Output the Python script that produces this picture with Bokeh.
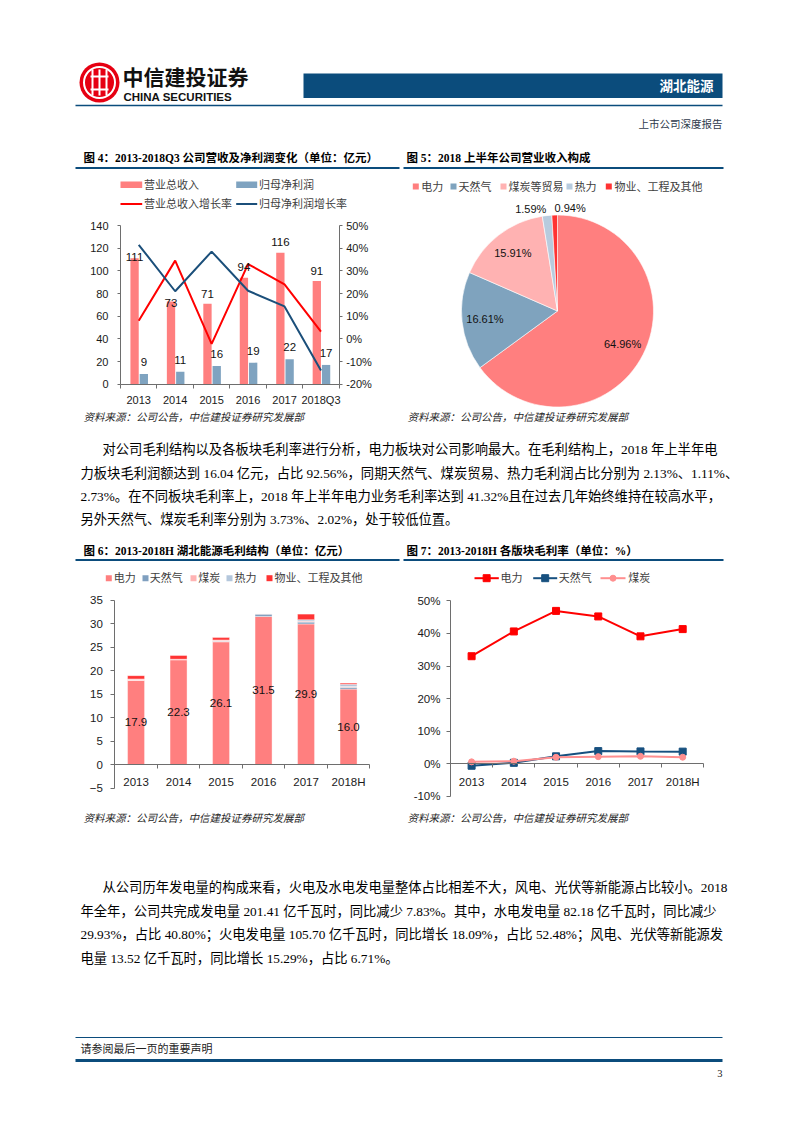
import numpy as np
from bokeh.plotting import figure
from bokeh.models import Range1d, LinearAxis, FixedTicker, NumeralTickFormatter, ColumnDataSource
from bokeh.core.properties import value
from bokeh.embed import file_html
from bokeh.resources import INLINE

# ---------------- data ----------------
years4 = ["2013", "2014", "2015", "2016", "2017", "2018Q3"]
revenue = [111, 73, 71, 94, 116, 91]
net_profit = [9, 11, 16, 19, 22, 17]
revenue_growth = [0.08, 0.345, -0.022, 0.33, 0.24, 0.032]
profit_growth = [0.415, 0.21, 0.385, 0.212, 0.143, -0.14]

pie_labels = ["电力", "天然气", "煤炭等贸易", "热力", "物业、工程及其他"]
pie_values = [64.96, 16.61, 15.91, 1.59, 0.94]

years6 = ["2013", "2014", "2015", "2016", "2017", "2018H"]
gp_labels = ["电力", "天然气", "煤炭", "热力", "物业、工程及其他"]
gp_power = [17.9, 22.3, 26.1, 31.5, 29.9, 16.04]
gp_gas = [0.0, 0.0, 0.1, 0.5, 0.4, 0.37]
gp_coal = [0.3, 0.1, 0.3, 0.1, 0.2, 0.19]
gp_heat = [0.0, 0.0, 0.0, 0.0, 0.3, 0.47]
gp_other = [0.7, 0.8, 0.5, 0.0, 1.2, 0.25]

margin_labels = ["电力", "天然气", "煤炭"]
margin_power = [0.330, 0.406, 0.469, 0.452, 0.391, 0.4132]
margin_gas = [-0.006, 0.003, 0.023, 0.039, 0.038, 0.0373]
margin_coal = [0.006, 0.008, 0.020, 0.022, 0.023, 0.0202]

para1 = [
    "对公司毛利结构以及各板块毛利率进行分析，电力板块对公司影响最大。在毛利结构上，2018 年上半年电",
    "力板块毛利润额达到 16.04 亿元，占比 92.56%，同期天然气、煤炭贸易、热力毛利润占比分别为 2.13%、1.11%、",
    "2.73%。在不同板块毛利率上，2018 年上半年电力业务毛利率达到 41.32%且在过去几年始终维持在较高水平，",
    "另外天然气、煤炭毛利率分别为 3.73%、2.02%，处于较低位置。",
]
para2 = [
    "从公司历年发电量的构成来看，火电及水电发电量整体占比相差不大，风电、光伏等新能源占比较小。2018",
    "年全年，公司共完成发电量 201.41 亿千瓦时，同比减少 7.83%。其中，水电发电量 82.18 亿千瓦时，同比减少",
    "29.93%，占比 40.80%；火电发电量 105.70 亿千瓦时，同比增长 18.09%，占比 52.48%；风电、光伏等新能源发",
    "电量 13.52 亿千瓦时，同比增长 15.29%，占比 6.71%。",
]
SRC = "资料来源：公司公告，中信建投证券研究发展部"

# ---------------- styles ----------------
NAVY = "#0B4C7C"
C_REV = "#FF7F7F"
C_NP = "#7FA3C0"
C_RG = "#FF0000"
C_NPG = "#1B4F7A"
PIE_COLORS = ["#FF7F7F", "#7FA3BE", "#FFB2B2", "#B7CBDE", "#FF3333"]
GP_COLORS = ["#FF7F7F", "#7F9FBF", "#FFB3B3", "#B4C7DC", "#FF3333"]
M_COLORS = ["#FF0000", "#17507F", "#FF8F8F"]
AXC = "#6E6E6E"
SANS = "Liberation Sans, Noto Sans CJK SC"
SERIF = "Liberation Serif, Noto Sans CJK SC"

W, H = 777, 1106
OFF = 0.0


def X(ix):
    return ix - OFF


def Y(iy):
    return H - (iy - OFF)


p = figure(width=W, height=H, x_range=Range1d(0, W), y_range=Range1d(0, H),
           x_axis_location=None, y_axis_location=None, output_backend="svg",
           toolbar_location=None, min_border=0)
p.grid.visible = False
p.outline_line_color = None
p.background_fill_color = "white"
p.border_fill_color = "white"


def prange(v0, i0, v1, i1, total, conv):
    a, b = conv(i0), conv(i1)
    k = (b - a) / (v1 - v0)
    s = v0 - a / k
    return Range1d(start=s, end=s + total / k)


p.extra_x_ranges = {
    "c4x": prange(0.5, 120, 6.5, 338.7, W, X),
    "c6x": prange(0.5, 114.3, 6.5, 369.3, W, X),
    "c7x": prange(0.5, 450, 6.5, 703.3, W, X),
}
p.extra_y_ranges = {
    "c4y": prange(0, 383.7, 140, 225, H, Y),
    "c4g": prange(-0.2, 383.7, 0.5, 225, H, Y),
    "c6y": prange(0, 764, 35, 599.5, H, Y),
    "c7y": prange(0, 763.3, 0.5, 600.3, H, Y),
}


def T(ix, iy, s, size, font=SANS, color="#000000", align="left", baseline="middle", style="normal"):
    p.text(x=[X(ix)], y=[Y(iy)], text=[s], text_font=value(font), text_font_size=f"{size}px",
           text_color=color, text_align=align, text_baseline=baseline, text_font_style=style)


def HL(x0, x1, iy, color, width):
    p.segment(x0=[X(x0)], y0=[Y(iy)], x1=[X(x1)], y1=[Y(iy)], line_color=color, line_width=width)


def BOX(x0, x1, y0, y1, color):
    p.quad(left=[X(x0)], right=[X(x1)], top=[Y(y0)], bottom=[Y(y1)], fill_color=color, line_color=None)


def add_axis(side, xr, yr, loc, bounds, ticks, minor=(), fmt=None, overrides=None, size=11,
             tick_out=4, standoff=6, major_tick=True, minor_out=0):
    ax = LinearAxis(x_range_name=xr, y_range_name=yr, fixed_location=loc, bounds=bounds,
                    ticker=FixedTicker(ticks=list(ticks), minor_ticks=list(minor)))
    if fmt is not None:
        ax.formatter = fmt
    if overrides is not None:
        ax.major_label_overrides = overrides
    ax.axis_line_color = AXC
    ax.major_tick_line_color = AXC if major_tick else None
    ax.major_tick_out = tick_out if major_tick else 0
    ax.major_tick_in = 0
    ax.minor_tick_line_color = AXC if len(minor) else None
    ax.minor_tick_out = minor_out
    ax.minor_tick_in = 0
    ax.major_label_standoff = standoff
    ax.major_label_text_font = SANS
    ax.major_label_text_font_size = f"{size}px"
    ax.major_label_text_color = "#1A1A1A"
    p.add_layout(ax, side)
    return ax


# ---------------- page header ----------------
p.circle(x=[X(99)], y=[Y(82)], radius=20, fill_color="#E60012", line_color=None)
p.circle(x=[X(99)], y=[Y(82)], radius=15.5, fill_color=None, line_color="white", line_width=2)
for dx in (-7, 0, 7):
    p.segment(x0=[X(99 + dx)], y0=[Y(69)], x1=[X(99 + dx)], y1=[Y(95)], line_color="white", line_width=2)
HL(90, 108, 76, "white", 2)
HL(90, 108, 89, "white", 2)
T(122, 77, "中信建投证券", 21, SANS, "#111111", style="bold")
T(123, 96, "CHINA SECURITIES", 11.5, "Liberation Sans", "#111111", style="bold")
BOX(303, 722, 73, 97.5, NAVY)
T(713, 86, "湖北能源", 13.5, SANS, "white", align="right", style="bold")
HL(75, 722, 105, NAVY, 1.5)
T(722, 124, "上市公司深度报告", 10.5, SERIF, "#2E3A4C", align="right")

# ---------------- chart titles / sources ----------------
T(83, 157, "图 4：2013-2018Q3 公司营收及净利润变化（单位：亿元）", 11.5, SERIF, style="bold")
HL(75, 399, 167.5, NAVY, 2)
T(406, 157, "图 5：2018 上半年公司营业收入构成", 11.5, SERIF, style="bold")
HL(403, 723, 167.5, NAVY, 2)
T(83, 550, "图 6：2013-2018H 湖北能源毛利结构（单位：亿元）", 11.5, SERIF, style="bold")
HL(75, 399, 559.5, NAVY, 2)
T(406, 550, "图 7：2013-2018H 各版块毛利率（单位：%）", 11.5, SERIF, style="bold")
HL(403, 723, 559.5, NAVY, 2)
for sx, sy in ((83, 417), (407, 417), (83, 818), (407, 818)):
    T(sx, sy, SRC, 10.5, SERIF, "#262626", style="italic")

# ---------------- chart 4 ----------------
xs4 = np.arange(1, len(years4) + 1)
p.vbar(x=xs4 - 0.114, top=revenue, width=0.228, x_range_name="c4x", y_range_name="c4y",
       fill_color=C_REV, line_color=None)
p.vbar(x=xs4 + 0.14, top=net_profit, width=0.228, x_range_name="c4x", y_range_name="c4y",
       fill_color=C_NP, line_color=None)
p.line(xs4, revenue_growth, x_range_name="c4x", y_range_name="c4g", line_color=C_RG, line_width=2)
p.line(xs4, profit_growth, x_range_name="c4x", y_range_name="c4g", line_color=C_NPG, line_width=2)
rev_label_dy = [-1, 2, -10, -11, -11, -10]
p.text(x=xs4 - 0.114, y=revenue, text=[str(v) for v in revenue], y_offset=rev_label_dy,
       x_range_name="c4x", y_range_name="c4y", text_font=value(SANS), text_font_size="11.5px",
       text_align="center", text_baseline="middle", text_color="#111111")
p.text(x=xs4 + 0.14, y=net_profit, text=[str(v) for v in net_profit], y_offset=-12,
       x_range_name="c4x", y_range_name="c4y", text_font=value(SANS), text_font_size="11.5px",
       text_align="center", text_baseline="middle", text_color="#111111")
add_axis("left", "c4x", "c4y", 0.5, (0, 140), range(0, 141, 20), tick_out=3, standoff=9)
add_axis("right", "c4x", "c4g", 6.5, (-0.2, 0.5), [round(-0.2 + 0.1 * i, 2) for i in range(8)],
         fmt=NumeralTickFormatter(format="0%"), tick_out=3, standoff=4)
add_axis("below", "c4x", "c4y", 0, (0.5, 6.5), xs4, minor=[i + 0.5 for i in range(len(years4) + 1)],
         overrides={int(i): y for i, y in zip(xs4, years4)}, major_tick=False, minor_out=4, standoff=6)

# legend chart 4
BOX(120, 141.7, 181, 187.5, C_REV)
T(143.5, 184.5, "营业总收入", 11, SANS, "#404040")
BOX(235.7, 256.7, 181, 187.5, C_NP)
T(258.5, 184.5, "归母净利润", 11, SANS, "#404040")
HL(120, 141.7, 203.5, C_RG, 2)
T(143.5, 203.5, "营业总收入增长率", 11, SANS, "#404040")
HL(235.7, 256.7, 203.5, C_NPG, 2)
T(258.5, 203.5, "归母净利润增长率", 11, SANS, "#404040")

# ---------------- chart 5 (pie) ----------------
cx, cy, R = X(557), Y(310.5), 96
frac = np.array(pie_values) / sum(pie_values)
cum = np.concatenate([[0.0], np.cumsum(frac)])
a0 = np.pi / 2 - 2 * np.pi * cum[:-1]
a1 = np.pi / 2 - 2 * np.pi * cum[1:]
p.wedge(x=cx, y=cy, radius=R, start_angle=a0, end_angle=a1, direction="clock",
        fill_color=PIE_COLORS, line_color="white", line_width=0.6)
mid = np.pi / 2 - np.pi * (cum[:-1] + cum[1:])
rl = np.where(frac > 0.05, 0.76 * R, 1.07 * R)
p.text(x=cx + rl * np.cos(mid), y=cy + rl * np.sin(mid), text=[f"{v:.2f}%" for v in pie_values],
       text_align=["center", "center", "center", "right", "left"], text_baseline="middle",
       text_font=value(SANS), text_font_size="11px", text_color="#111111")
leg5 = [(415.3, 420.7), (453, 458), (503, 508), (569, 574), (608.3, 614)]
for (mx, tx), lab, col in zip(leg5, pie_labels, PIE_COLORS):
    p.scatter(x=[X(mx)], y=[Y(186)], marker="square", size=6, fill_color=col, line_color=None)
    T(tx, 186, lab, 11, SANS, "#404040")

# ---------------- chart 6 (stacked) ----------------
xs6 = np.arange(1, len(years6) + 1)
src6 = ColumnDataSource(dict(x=xs6, power=gp_power, gas=gp_gas, coal=gp_coal, heat=gp_heat, other=gp_other))
p.vbar_stack(["power", "gas", "coal", "heat", "other"], x="x", width=0.4, color=GP_COLORS, source=src6,
             x_range_name="c6x", y_range_name="c6y", line_color="white", line_width=0.4)
p.text(x=xs6, y=[v / 2 for v in gp_power], text=[f"{v:.1f}" for v in gp_power],
       x_range_name="c6x", y_range_name="c6y", text_font=value(SANS), text_font_size="11.5px",
       text_align="center", text_baseline="middle", text_color="#111111")
add_axis("left", "c6x", "c6y", 0.5, (-5, 35), range(-5, 36, 5), size=11.5, tick_out=4, standoff=8)
add_axis("below", "c6x", "c6y", 0, (0.5, 6.5), xs6, minor=[i + 0.5 for i in range(len(years6) + 1)],
         overrides={int(i): y for i, y in zip(xs6, years6)}, major_tick=False, minor_out=4, standoff=7,
         size=11.5)
leg6 = [(108.3, 113.3), (145, 149.3), (193, 197.7), (229, 234), (269, 274)]
for (mx, tx), lab, col in zip(leg6, gp_labels, GP_COLORS):
    p.scatter(x=[X(mx)], y=[Y(577.7)], marker="square", size=6, fill_color=col, line_color=None)
    T(tx, 577.7, lab, 11, SANS, "#404040")

# ---------------- chart 7 (lines) ----------------
xs7 = np.arange(1, len(years6) + 1)
series7 = [(margin_power, "square", 7), (margin_gas, "square", 7), (margin_coal, "circle", 6)]
for (vals, mk, sz), col in zip(series7, M_COLORS):
    p.line(xs7, vals, x_range_name="c7x", y_range_name="c7y", line_color=col, line_width=2)
    p.scatter(xs7, vals, x_range_name="c7x", y_range_name="c7y", marker=mk, size=sz,
              fill_color=col, line_color=col)
add_axis("left", "c7x", "c7y", 0.5, (-0.1, 0.5), [round(-0.1 + 0.1 * i, 2) for i in range(7)],
         fmt=NumeralTickFormatter(format="0%"), size=11.5, tick_out=4, standoff=6)
add_axis("below", "c7x", "c7y", 0, (0.5, 6.5), xs7, minor=[i + 0.5 for i in range(len(years6) + 1)],
         overrides={int(i): y for i, y in zip(xs7, years6)}, major_tick=False, minor_out=4, standoff=8,
         size=11.5)
leg7 = [(474, 498.3, 500), (532.7, 556.7, 558.3), (600, 625, 627.7)]
for (l0, l1, tx), lab, col, (_, mk, sz) in zip(leg7, margin_labels, M_COLORS, series7):
    HL(l0, l1, 577.7, col, 2)
    p.scatter(x=[X((l0 + l1) / 2)], y=[Y(577.7)], marker=mk, size=sz, fill_color=col, line_color=col)
    T(tx, 577.7, lab, 11, SANS, "#404040")

# ---------------- body text ----------------
for i, (line, iy) in enumerate(zip(para1, (449, 473, 496, 519))):
    T(102 if i == 0 else 80, iy, line, 13.3, SERIF, "#000000")
for i, (line, iy) in enumerate(zip(para2, (887, 911, 934, 958))):
    T(102 if i == 0 else 80, iy, line, 13.3, SERIF, "#000000")

# ---------------- footer ----------------
HL(75, 722, 1037, NAVY, 1)
T(80, 1048.5, "请参阅最后一页的重要声明", 11, SERIF, "#222222")
BOX(75, 722, 1058.5, 1061.5, NAVY)
T(722, 1073, "3", 10.5, SERIF, "#222222", align="right")

open("out.html", "w").write(file_html(p, INLINE))
